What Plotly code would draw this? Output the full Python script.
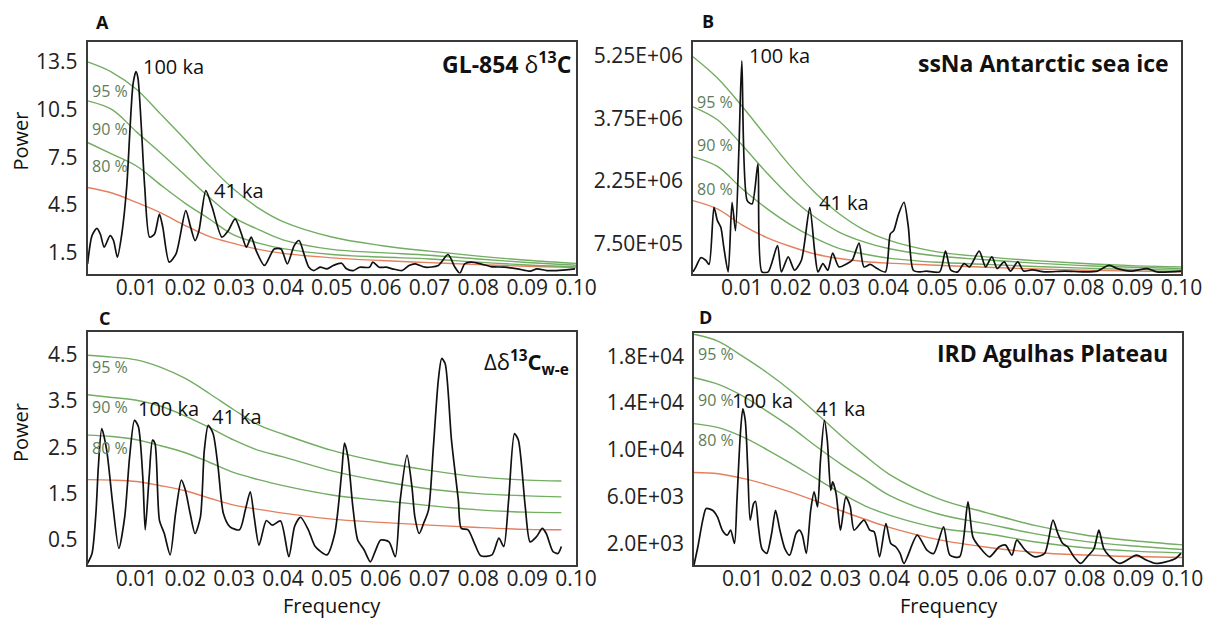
import plotly.graph_objects as go

# significance curve frequencies
sig_freq = [0.0, 0.005, 0.01, 0.015, 0.02, 0.025, 0.03, 0.035, 0.04, 0.05, 0.06, 0.07, 0.08, 0.09, 0.10]
sig_freq_c = [0.0, 0.005, 0.01, 0.015, 0.02, 0.025, 0.03, 0.035, 0.04, 0.05, 0.06, 0.07, 0.08, 0.09, 0.097]

x_ticks = [0.01, 0.02, 0.03, 0.04, 0.05, 0.06, 0.07, 0.08, 0.09, 0.10]
x_tick_text = ["0.01", "0.02", "0.03", "0.04", "0.05", "0.06", "0.07", "0.08", "0.09", "0.10"]

# A: GL-854 d13C
freq_a = [0.0, 0.0009, 0.0019, 0.0026, 0.0034, 0.0046, 0.0053, 0.0061, 0.0070, 0.0080, 0.0087, 0.0093, 0.0099, 0.0103, 0.0110,
          0.0117, 0.0127, 0.0137, 0.0147, 0.0154, 0.0167, 0.0181, 0.0201, 0.0211, 0.0220, 0.0228, 0.0242, 0.0255, 0.0275, 0.0288,
          0.0302, 0.0315, 0.0325, 0.0335, 0.0345, 0.0362, 0.0382, 0.0396, 0.0409, 0.0423, 0.0433, 0.0443, 0.0453, 0.0463, 0.0476,
          0.0490, 0.0503, 0.0520, 0.0530, 0.0544, 0.0557, 0.0577, 0.0584, 0.0597, 0.0611, 0.0624, 0.0644, 0.0658, 0.0671, 0.0691,
          0.0718, 0.0738, 0.0752, 0.0762, 0.0772, 0.0785, 0.0805, 0.0826, 0.0853, 0.0880, 0.0906, 0.0920, 0.0940, 0.0960, 0.0998]
power_a = [0.79, 2.57, 3.03, 2.67, 1.84, 2.57, 2.26, 1.21, 2.67, 5.61, 9.38, 12.1, 12.9, 12.5, 9.4,
           5.6, 2.47, 2.67, 3.93, 3.09, 0.90, 1.42, 4.14, 3.09, 2.26, 2.88, 5.40, 4.35, 2.47, 2.88,
           3.62, 2.67, 1.84, 2.47, 1.63, 0.69, 1.73, 1.73, 0.79, 1.94, 2.26, 1.42, 0.58, 0.37, 0.58,
           0.48, 0.69, 0.83, 0.48, 0.37, 0.58, 0.58, 0.90, 0.58, 0.58, 0.48, 0.37, 0.69, 0.79, 0.58,
           0.69, 1.38, 0.58, 0.20, 0.79, 0.90, 0.79, 0.62, 0.58, 0.48, 0.33, 0.48, 0.37, 0.37, 0.48]
a_95 = [13.5, 12.85, 11.78, 10.2, 8.6, 6.95, 5.47, 4.3, 3.45, 2.48, 1.95, 1.59, 1.28, 1.02, 0.82]
a_90 = [11.05, 10.5, 9.1, 7.75, 6.35, 4.95, 3.7, 2.95, 2.3, 1.7, 1.5, 1.33, 1.1, 0.88, 0.7]
a_80 = [8.43, 7.7, 6.95, 5.75, 4.6, 3.6, 2.6, 2.1, 1.75, 1.38, 1.22, 1.1, 0.9, 0.72, 0.6]
a_red = [5.6, 5.25, 4.66, 4.0, 3.2, 2.5, 2.07, 1.7, 1.45, 1.17, 1.0, 0.87, 0.74, 0.64, 0.56]

# B: ssNa Antarctic sea ice (millions)
freq_b = [0.0, 0.0006, 0.0016, 0.0026, 0.0033, 0.0043, 0.0050, 0.0057, 0.0063, 0.0072, 0.0080, 0.0087, 0.0094, 0.0100, 0.0111,
          0.0121, 0.0133, 0.0141, 0.0154, 0.0173, 0.0181, 0.0195, 0.0208, 0.0222, 0.0239, 0.0249, 0.0256, 0.0266, 0.0276, 0.0286,
          0.0299, 0.0316, 0.0326, 0.0340, 0.0350, 0.0363, 0.0377, 0.0394, 0.0404, 0.0411, 0.0421, 0.0432, 0.0441, 0.0451, 0.0465,
          0.0478, 0.0505, 0.0517, 0.0528, 0.0542, 0.0555, 0.0566, 0.0586, 0.0599, 0.0612, 0.0623, 0.0637, 0.0650, 0.0665, 0.0677,
          0.0694, 0.0721, 0.0761, 0.0802, 0.0828, 0.0852, 0.0869, 0.0896, 0.0930, 0.0950, 0.1000]
power_b_mln = [0.07, 0.19, 0.41, 0.35, 0.25, 1.62, 1.30, 1.14, 0.67, 0.07, 1.74, 1.06, 3.0, 5.13, 1.78,
               1.70, 2.66, 0.07, 0.07, 0.70, 0.07, 0.43, 0.11, 0.35, 1.61, 0.58, 0.07, 0.27, 0.11, 0.52,
               0.19, 0.27, 0.35, 0.76, 0.19, 0.25, 0.15, 0.07, 0.98, 1.06, 1.46, 1.74, 1.14, 0.11, 0.07,
               0.09, 0.07, 0.57, 0.11, 0.07, 0.27, 0.19, 0.57, 0.19, 0.43, 0.15, 0.31, 0.09, 0.31, 0.09,
               0.12, 0.07, 0.09, 0.07, 0.09, 0.23, 0.15, 0.09, 0.15, 0.07, 0.09]
b_95_mln = [5.23, 4.72, 4.05, 3.32, 2.6, 1.97, 1.46, 1.08, 0.83, 0.55, 0.43, 0.34, 0.27, 0.22, 0.19]
b_90_mln = [4.03, 3.72, 3.12, 2.46, 1.86, 1.38, 1.02, 0.79, 0.63, 0.45, 0.36, 0.28, 0.22, 0.18, 0.15]
b_80_mln = [2.83, 2.6, 2.07, 1.6, 1.2, 0.88, 0.63, 0.5, 0.4, 0.3, 0.25, 0.2, 0.16, 0.13, 0.11]
b_red_mln = [1.78, 1.58, 1.2, 0.9, 0.68, 0.5, 0.39, 0.32, 0.28, 0.23, 0.18, 0.14, 0.11, 0.09, 0.07]

# C: delta d13C w-e
freq_c = [0.0, 0.0009, 0.0017, 0.0022, 0.0029, 0.0039, 0.0052, 0.0064, 0.0076, 0.0086, 0.0096, 0.0104, 0.0113, 0.0118, 0.0126,
          0.0133, 0.0138, 0.0147, 0.0157, 0.0169, 0.0180, 0.0192, 0.0200, 0.0210, 0.0220, 0.0231, 0.0239, 0.0247, 0.0257, 0.0267,
          0.0278, 0.0291, 0.0311, 0.0323, 0.0333, 0.0341, 0.0351, 0.0366, 0.0378, 0.0395, 0.0412, 0.0424, 0.0436, 0.0452, 0.0466,
          0.0490, 0.0506, 0.0520, 0.0526, 0.0533, 0.0543, 0.0553, 0.0566, 0.0579, 0.0590, 0.0600, 0.0617, 0.0630, 0.0640, 0.0654,
          0.0664, 0.0670, 0.0679, 0.0688, 0.0698, 0.0708, 0.0718, 0.0725, 0.0732, 0.0745, 0.0759, 0.0765, 0.0779, 0.0792, 0.0805,
          0.0828, 0.0842, 0.0852, 0.0862, 0.0874, 0.0882, 0.0896, 0.0906, 0.0919, 0.0931, 0.0939, 0.0953, 0.0963, 0.0970]
power_c = [0.0, 0.21, 1.07, 2.08, 2.90, 2.44, 1.22, 0.32, 1.0, 2.29, 3.08, 2.94, 1.86, 0.72, 1.86,
           2.65, 2.58, 0.93, 0.64, 0.18, 1.07, 1.79, 1.58, 1.07, 0.64, 1.0, 2.44, 2.97, 2.79, 2.08,
           1.07, 0.79, 0.72, 1.15, 1.54, 1.0, 0.39, 0.92, 0.82, 0.91, 0.14, 0.8, 0.99, 0.72, 0.36,
           0.18, 0.64, 1.93, 2.59, 2.29, 1.22, 0.50, 0.29, 0.03, 0.29, 0.50, 0.46, 0.14, 1.36, 2.33,
           1.65, 1.0, 0.64, 0.86, 1.15, 2.51, 3.94, 4.41, 4.30, 2.65, 1.36, 0.75, 0.72, 0.43, 0.16,
           0.18, 0.54, 0.36, 1.36, 2.79, 2.65, 1.22, 0.46, 0.57, 0.75, 0.64, 0.25, 0.21, 0.36]
c_95 = [4.48, 4.44, 4.38, 4.22, 3.98, 3.65, 3.3, 2.98, 2.78, 2.43, 2.18, 2.0, 1.86, 1.79, 1.77]
c_90 = [3.63, 3.57, 3.51, 3.38, 3.17, 2.92, 2.65, 2.43, 2.29, 1.99, 1.77, 1.6, 1.5, 1.45, 1.43]
c_80 = [2.76, 2.73, 2.66, 2.53, 2.38, 2.17, 1.95, 1.8, 1.67, 1.47, 1.35, 1.24, 1.15, 1.1, 1.09]
c_red = [1.80, 1.79, 1.76, 1.67, 1.56, 1.40, 1.25, 1.16, 1.08, 0.95, 0.88, 0.82, 0.77, 0.73, 0.72]

# D: IRD Agulhas Plateau (thousands)
freq_d = [0.0, 0.0008, 0.0018, 0.0025, 0.0038, 0.0048, 0.0058, 0.0068, 0.0075, 0.0083, 0.0088, 0.0095, 0.0100, 0.0105, 0.0110,
          0.0115, 0.0122, 0.0126, 0.0132, 0.0139, 0.0149, 0.0159, 0.0167, 0.0176, 0.0186, 0.0196, 0.0209, 0.0216, 0.0222, 0.0230,
          0.0239, 0.0246, 0.0253, 0.0259, 0.0267, 0.0273, 0.0280, 0.0284, 0.0291, 0.0300, 0.0311, 0.0320, 0.0328, 0.0348, 0.0360,
          0.0369, 0.0380, 0.0393, 0.0403, 0.0413, 0.0422, 0.0430, 0.0457, 0.0477, 0.0491, 0.0511, 0.0524, 0.0544, 0.0561, 0.0571,
          0.0584, 0.0605, 0.0625, 0.0638, 0.0651, 0.0661, 0.0678, 0.0698, 0.0718, 0.0735, 0.0745, 0.0755, 0.0765, 0.0778, 0.0792,
          0.0805, 0.0819, 0.0829, 0.0839, 0.0852, 0.0872, 0.0906, 0.0926, 0.0946, 0.0966, 0.0986, 0.0997]
power_d_k = [0.12, 1.69, 3.97, 4.97, 4.82, 4.25, 3.11, 2.68, 3.11, 1.97, 5.68, 11.38, 13.52, 12.52, 8.53,
             3.97, 5.39, 5.59, 3.40, 1.54, 1.12, 2.83, 4.82, 3.11, 1.54, 0.97, 2.83, 3.11, 2.68, 1.12,
             4.82, 6.39, 5.11, 9.10, 12.52, 10.81, 6.53, 7.25, 6.25, 3.11, 5.96, 5.11, 3.11, 3.97, 3.11,
             2.97, 0.83, 3.68, 1.97, 1.69, 1.12, 0.26, 2.68, 1.40, 1.12, 3.40, 0.97, 0.83, 5.54, 2.54,
             1.69, 0.83, 1.69, 1.83, 0.97, 2.26, 1.40, 0.83, 1.12, 3.97, 2.83, 1.97, 1.69, 0.83, 0.26,
             0.83, 1.54, 3.11, 1.54, 0.83, 0.26, 0.97, 0.55, 0.26, 0.40, 0.69, 1.12]
d_95_k = [19.9, 19.3, 18.0, 16.6, 15.0, 13.15, 11.25, 9.5, 7.9, 5.82, 4.6, 3.5, 2.7, 2.2, 1.85]
d_90_k = [16.17, 15.6, 14.6, 13.3, 11.9, 10.3, 8.8, 7.45, 6.1, 4.5, 3.65, 2.8, 2.15, 1.75, 1.46]
d_80_k = [12.24, 11.9, 11.1, 10.0, 8.8, 7.55, 6.3, 5.2, 4.4, 3.3, 2.8, 2.1, 1.6, 1.32, 1.17]
d_red_k = [8.05, 7.95, 7.55, 7.0, 6.35, 5.6, 4.8, 4.05, 3.35, 2.3, 1.65, 1.2, 0.98, 0.85, 0.77]

mln = lambda v: [x * 1e6 for x in v]
kilo = lambda v: [x * 1e3 for x in v]

FONT = "Open Sans"
GREEN = "#72ad62"
RED = "#e5805f"
PCT = "#5d7d58"
FRAME = "#3a3a3a"

# the page body has an 8px margin; figure runs from there to the window's edge
OFF = 8
W, H = 1226 - OFF, 618 - OFF

fig = go.Figure()


def add_panel(n, freq, power, sfreq, s95, s90, s80, red):
        xa = "x" if n == 1 else "x%d" % n
        ya = "y" if n == 1 else "y%d" % n
        for curve, col in [(red, RED), (s80, GREEN), (s90, GREEN), (s95, GREEN)]:
                fig.add_trace(go.Scatter(x=sfreq, y=curve, mode="lines",
                                line=dict(color=col, width=1.4, shape="spline"),
                                xaxis=xa, yaxis=ya, hoverinfo="skip", showlegend=False))
        fig.add_trace(go.Scatter(x=freq, y=power, mode="lines",
                        line=dict(color="#111111", width=1.7, shape="spline", smoothing=0.7),
                        xaxis=xa, yaxis=ya, showlegend=False))


add_panel(1, freq_a, power_a, sig_freq, a_95, a_90, a_80, a_red)
add_panel(2, freq_b, mln(power_b_mln), sig_freq, mln(b_95_mln), mln(b_90_mln), mln(b_80_mln), mln(b_red_mln))
add_panel(3, freq_c, power_c, sig_freq_c, c_95, c_90, c_80, c_red)
add_panel(4, freq_d, kilo(power_d_k), sig_freq, kilo(d_95_k), kilo(d_90_k), kilo(d_80_k), kilo(d_red_k))

tick_font = dict(family=FONT, size=21, color="#222222")


def xdom(l, r):
        return [(l - OFF) / W, (r - OFF) / W]


def ydom(b, t):
        return [1 - (b - OFF) / H, 1 - (t - OFF) / H]


def xaxis(dom, anchor):
        return dict(domain=dom, anchor=anchor, range=[0, 0.1], tickvals=x_ticks, ticktext=x_tick_text,
                    showgrid=False, zeroline=False, showline=True, mirror=True, linecolor=FRAME, linewidth=1.6,
                    ticks="", ticklen=0, tickfont=tick_font, ticklabelstandoff=-6)


def yaxis(dom, anchor, rng, vals, text):
        return dict(domain=dom, anchor=anchor, range=rng, tickvals=vals, ticktext=text,
                    showgrid=False, zeroline=False, showline=True, mirror=True, linecolor=FRAME, linewidth=1.6,
                    ticks="", tickfont=tick_font, ticklabelstandoff=4)


fig.update_layout(
        width=W, height=H,
        margin=dict(l=0, r=0, t=0, b=0),
        paper_bgcolor="white", plot_bgcolor="white",
        font=dict(family=FONT, color="#111111"),
        xaxis=xaxis(xdom(89, 586), "y"),
        yaxis=yaxis(ydom(273, 41), "x", [0.18, 14.76], [1.5, 4.5, 7.5, 10.5, 13.5],
                    ["1.5", "4.5", "7.5", "10.5", "13.5"]),
        xaxis2=xaxis(xdom(705, 1202), "y2"),
        yaxis2=yaxis(ydom(273, 41), "x2", [0.03e6, 5.585e6], [7.5e5, 2.25e6, 3.75e6, 5.25e6],
                     ["7.50E+05", "2.25E+06", "3.75E+06", "5.25E+06"]),
        xaxis3=xaxis(xdom(89, 586), "y3"),
        yaxis3=yaxis(ydom(565, 332), "x3", [-0.04, 4.97], [0.5, 1.5, 2.5, 3.5, 4.5],
                     ["0.5", "1.5", "2.5", "3.5", "4.5"]),
        xaxis4=xaxis(xdom(706, 1203), "y4"),
        yaxis4=yaxis(ydom(565, 333), "x4", [120, 19970], [2000, 6000, 10000, 14000, 18000],
                     ["2.0E+03", "6.0E+03", "1.0E+04", "1.4E+04", "1.8E+04"]),
)

ann = []


def paper_text(text, px, py, size, xanchor="center", angle=0, color="#111111"):
        ann.append(dict(text=text, x=(px - OFF) / W, y=1 - (py - OFF) / H, xref="paper", yref="paper",
                        xanchor=xanchor, yanchor="middle", showarrow=False, textangle=angle,
                        font=dict(family=FONT, size=size, color=color)))


def data_text(text, n, x, y, size, color="#111111"):
        xa = "x" if n == 1 else "x%d" % n
        ya = "y" if n == 1 else "y%d" % n
        ann.append(dict(text=text, x=x, y=y, xref=xa, yref=ya, xanchor="left", yanchor="middle",
                        showarrow=False, font=dict(family=FONT, size=size, color=color)))


# panel letters
paper_text("<b>A</b>", 104, 21, 18)
paper_text("<b>B</b>", 720, 20, 18)
paper_text("<b>C</b>", 106, 318, 18)
paper_text("<b>D</b>", 718, 317, 18)

# panel titles
paper_text("<b>GL-854 </b>δ<b><sup>13</sup>C</b>", 583, 62, 23, xanchor="right")
paper_text("<b>ssNa Antarctic sea ice</b>", 1191, 62, 23, xanchor="right")
paper_text("Δδ<b><sup>13</sup>C<sub>w-e</sub></b>", 581, 362, 22, xanchor="right")
paper_text("<b>IRD Agulhas Plateau</b>", 1190, 353, 23, xanchor="right")

# axis titles
paper_text("Power", 21, 140, 20, angle=-90)
paper_text("Power", 21, 432, 20, angle=-90)
paper_text("Frequency", 338, 605, 20)
paper_text("Frequency", 965, 605, 20)

# peak labels
data_text("100 ka", 1, 0.0110, 13.19, 20)
data_text("41 ka", 1, 0.0255, 5.40, 20)
data_text("100 ka", 2, 0.0111, 5.27e6, 20)
data_text("41 ka", 2, 0.0253, 1.73e6, 20)
data_text("100 ka", 3, 0.0099, 3.34, 20)
data_text("41 ka", 3, 0.0250, 3.15, 20)
data_text("100 ka", 4, 0.0074, 14240, 20)
data_text("41 ka", 4, 0.0245, 13550, 20)

# confidence level labels
for n, ys in [(1, [11.68, 9.29, 6.97]), (2, [4.15e6, 3.12e6, 2.07e6]),
              (3, [4.22, 3.36, 2.48]), (4, [18170, 14240, 10810])]:
        for lab, yv in zip(["95 %", "90 %", "80 %"], ys):
                data_text(lab, n, 0.0004, yv, 16, color=PCT)

fig.update_layout(annotations=ann)

fig.write_html("out.html")
